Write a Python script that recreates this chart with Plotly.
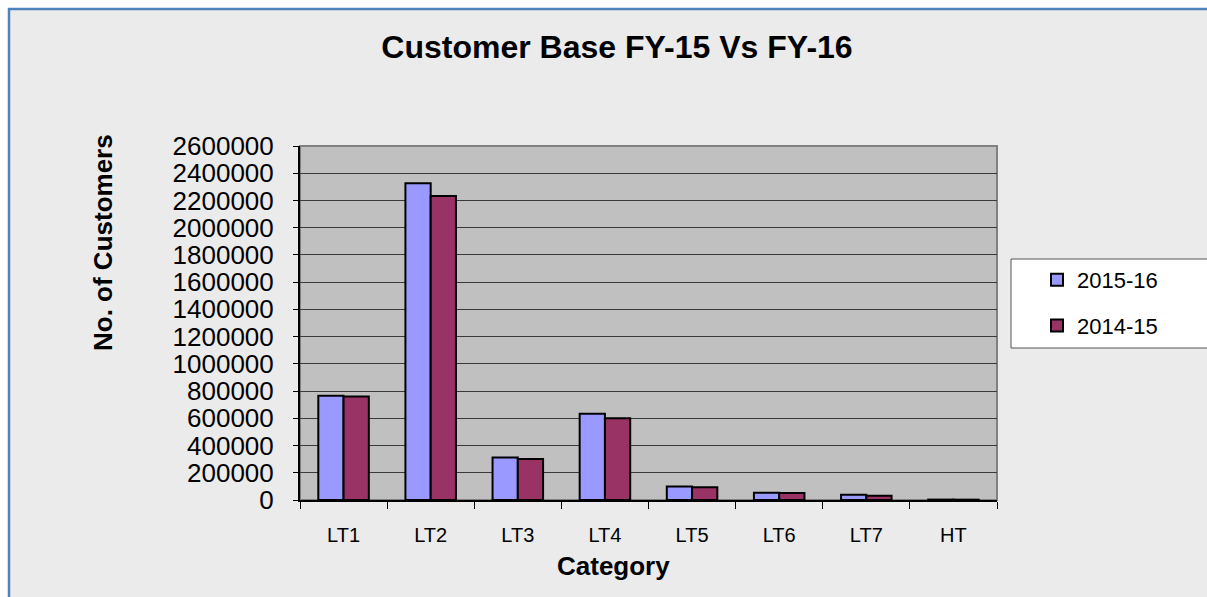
import plotly.graph_objects as go

categories = ["LT1", "LT2", "LT3", "LT4", "LT5", "LT6", "LT7", "HT"]
fy_2015_16 = [765000, 2326000, 313000, 634000, 100000, 54000, 39000, 3000]
fy_2014_15 = [760000, 2233000, 301000, 600000, 93000, 51000, 32000, 2500]
series_names = ["2015-16", "2014-15"]
y_ticks = list(range(0, 2600001, 200000))

W, H = 1207, 597
L, T = 300, 146
R = W - 997
B = H - 500
pw, ph = W - L - R, H - T - B

def px(x):
    return (x - L) / pw

def py(y):
    return (H - B - y) / ph

fig = go.Figure()
fig.add_trace(go.Bar(x=categories, y=fy_2015_16, name=series_names[0],
                     marker=dict(color="#9999FF", line=dict(color="#000000", width=2)),
                     legendgroup="a"))
fig.add_trace(go.Bar(x=categories, y=fy_2014_15, name=series_names[1],
                     marker=dict(color="#993366", line=dict(color="#000000", width=2)),
                     legendgroup="b"))

fig.update_layout(
    width=W, height=H,
    margin=dict(l=L, r=R, t=T, b=B, autoexpand=False),
    paper_bgcolor="#EBEBEB",
    plot_bgcolor="#C0C0C0",
    barmode="group", bargap=0.42, bargroupgap=0,
    font=dict(family="Arial, Liberation Sans, sans-serif", color="#000000"),
    title=dict(text="<b>Customer Base FY-15 Vs FY-16</b>", font=dict(size=32),
               xref="paper", x=px(617), xanchor="center",
               yref="container", y=1 - 47 / H, yanchor="middle"),
    xaxis=dict(showline=True, linecolor="#000000", linewidth=2,
               ticks="outside", tickson="boundaries", ticklen=7, tickcolor="#000000",
               tickfont=dict(size=20), ticklabelstandoff=16, showgrid=False),
    yaxis=dict(range=[0, 2600000], tickvals=y_ticks, tickformat="d",
               showline=True, linecolor="#000000", linewidth=2,
               ticks="outside", ticklen=5, tickcolor="#000000",
               tickfont=dict(size=26), ticklabelstandoff=14,
               showgrid=True, gridcolor="#3a3a3a", gridwidth=1, zeroline=False),
    legend=dict(x=px(1011), y=py(259), xanchor="left", yanchor="top",
                bgcolor="rgba(0,0,0,0)", borderwidth=0,
                font=dict(size=22), tracegroupgap=14, indentation=26),
    showlegend=True,
)

fig.add_annotation(text="<b>No. of Customers</b>", textangle=-90,
                   xref="paper", yref="paper", x=px(103), y=py(243),
                   showarrow=False, font=dict(size=26), xanchor="center", yanchor="middle")
fig.add_annotation(text="<b>Category</b>",
                   xref="paper", yref="paper", x=px(613), y=py(566),
                   showarrow=False, font=dict(size=26), xanchor="center", yanchor="middle")

# white page strips outside the framed chart
fig.add_shape(type="rect", xref="paper", yref="paper", x0=px(-5), x1=px(8), y0=py(610), y1=py(-5),
              fillcolor="#FFFFFF", line=dict(width=0), layer="below")
fig.add_shape(type="rect", xref="paper", yref="paper", x0=px(-5), x1=px(1220), y0=py(8), y1=py(-5),
              fillcolor="#FFFFFF", line=dict(width=0), layer="below")
# legend box (extends past the right edge as in the reference)
fig.add_shape(type="rect", xref="paper", yref="paper", x0=px(1011), x1=px(1240),
              y0=py(348), y1=py(259), fillcolor="#FFFFFF",
              line=dict(color="#555555", width=1), layer="above")
# plot-area border (gray) and outer blue frame
fig.add_shape(type="rect", xref="paper", yref="paper", x0=0, x1=1, y0=0, y1=1,
              line=dict(color="#808080", width=2), layer="below")
fig.add_shape(type="line", xref="paper", yref="paper", x0=px(8), x1=px(1220), y0=py(9), y1=py(9),
              line=dict(color="#4F81BD", width=2.5))
fig.add_shape(type="line", xref="paper", yref="paper", x0=px(9), x1=px(9), y0=py(8), y1=py(610),
              line=dict(color="#4F81BD", width=2.5))

fig.write_html("out.html",
               config={"displayModeBar": False},
               post_script="document.body.style.margin='0';"
                           "document.body.style.overflow='hidden';")
